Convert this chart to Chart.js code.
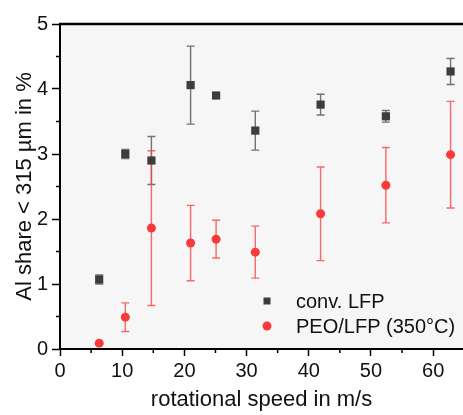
<!DOCTYPE html>
<html>
<head>
<meta charset="utf-8">
<script src="https://cdn.jsdelivr.net/npm/chart.js@4/dist/chart.umd.min.js"></script>
<style>
  html, body { margin: 0; padding: 0; background: #fff; }
  #wrap { width: 463px; height: 415px; }
</style>
</head>
<body>
<div id="wrap"><canvas id="chart" width="463" height="415"></canvas></div>
<script>
// rotational speed (m/s)
var speed = [6.3, 10.5, 14.7, 21.0, 25.1, 31.4, 41.9, 52.4, 62.8];

// Al share < 315 um, conv. LFP
var convMean = [1.07, 3.00, 2.90, 4.06, 3.90, 3.36, 3.76, 3.58, 4.27];
var convErr = [0.07, 0.07, 0.37, 0.60, 0.03, 0.30, 0.16, 0.09, 0.20];

// Al share < 315 um, PEO/LFP (350°C)
var peoMean = [0.09, 0.49, 1.86, 1.63, 1.69, 1.49, 2.08, 2.52, 2.99];
var peoErr = [0.00, 0.22, 1.19, 0.58, 0.29, 0.40, 0.72, 0.58, 0.82];

var xTicks = [0, 10, 20, 30, 40, 50, 60];
var yTicks = [0, 1, 2, 3, 4, 5];

var FONT = "'Liberation Sans', Arial, sans-serif";

function toPoints(ys, errs) {
    return speed.map(function (x, i) {
        return { x: x, y: ys[i], err: errs[i] };
    });
}

// plot background + top frame line + minor ticks
var backdrop = {
    id: 'backdrop',
    beforeDraw: function (chart) {
        var a = chart.chartArea, ctx = chart.ctx;
        ctx.save();
        ctx.fillStyle = '#f6f6f6';
        ctx.fillRect(a.left, a.top, a.right - a.left, a.bottom - a.top);
        ctx.restore();
    },
    afterDraw: function (chart) {
        var a = chart.chartArea, ctx = chart.ctx;
        var xs = chart.scales.x, ys = chart.scales.y;
        ctx.save();
        ctx.strokeStyle = '#000';
        ctx.lineWidth = 2.5;
        ctx.beginPath();
        ctx.moveTo(a.left - 1, a.top);
        ctx.lineTo(a.right, a.top);
        ctx.stroke();
        ctx.lineWidth = 1.5;
        ctx.beginPath();
        for (var v = 5; v < xs.max; v += 10) {
            var px = xs.getPixelForValue(v);
            ctx.moveTo(px, a.bottom);
            ctx.lineTo(px, a.bottom + 4);
        }
        for (var w = 0.5; w < ys.max; w += 1) {
            var py = ys.getPixelForValue(w);
            ctx.moveTo(a.left, py);
            ctx.lineTo(a.left - 4, py);
        }
        ctx.stroke();
        ctx.restore();
    }
};

// vertical error bars
var errorBars = {
    id: 'errorBars',
    beforeDatasetsDraw: function (chart) {
        var ctx = chart.ctx;
        var xs = chart.scales.x, ys = chart.scales.y;
        ctx.save();
        chart.data.datasets.forEach(function (ds) {
            ctx.strokeStyle = ds.errColor;
            ctx.lineWidth = 1.4;
            ds.data.forEach(function (p) {
                if (!p.err) return;
                var px = xs.getPixelForValue(p.x);
                var top = ys.getPixelForValue(p.y + p.err);
                var bot = ys.getPixelForValue(p.y - p.err);
                ctx.beginPath();
                ctx.moveTo(px, top);
                ctx.lineTo(px, bot);
                ctx.moveTo(px - 4, top);
                ctx.lineTo(px + 4, top);
                ctx.moveTo(px - 4, bot);
                ctx.lineTo(px + 4, bot);
                ctx.stroke();
            });
        });
        ctx.restore();
    }
};

// legend inside plot, bottom right
var insideLegend = {
    id: 'insideLegend',
    afterDraw: function (chart) {
        var ctx = chart.ctx;
        var mx = 267, tx = 296, rows = [301, 326];
        ctx.save();
        ctx.font = '20px ' + FONT;
        ctx.textBaseline = 'middle';
        ctx.textAlign = 'left';
        chart.data.datasets.forEach(function (ds, i) {
            ctx.fillStyle = ds.backgroundColor;
            if (ds.pointStyle === 'rect') {
                ctx.fillRect(mx - 3.5, rows[i] - 3.5, 7, 7);
            } else {
                ctx.beginPath();
                ctx.arc(mx, rows[i], 4.5, 0, Math.PI * 2);
                ctx.fill();
            }
            ctx.fillStyle = '#111';
            ctx.fillText(ds.label, tx, rows[i] + 1);
        });
        ctx.restore();
    }
};

var chart = new Chart(document.getElementById('chart'), {
    type: 'scatter',
    data: {
        datasets: [
            {
                label: 'conv. LFP',
                data: toPoints(convMean, convErr),
                pointStyle: 'rect',
                pointRadius: 5.8,
                backgroundColor: '#3d3d3d',
                borderColor: '#3d3d3d',
                borderWidth: 0,
                errColor: 'rgba(90,90,90,0.85)'
            },
            {
                label: 'PEO/LFP (350°C)',
                data: toPoints(peoMean, peoErr),
                pointStyle: 'circle',
                pointRadius: 4.5,
                backgroundColor: '#f83a3a',
                borderColor: '#f83a3a',
                borderWidth: 0,
                errColor: 'rgba(245,70,70,0.8)'
            }
        ]
    },
    options: {
        responsive: false,
        animation: false,
        layout: {
            autoPadding: false,
            padding: { top: 24, right: 0, left: 0, bottom: 0 }
        },
        plugins: {
            legend: { display: false },
            tooltip: { enabled: false }
        },
        scales: {
            x: {
                type: 'linear',
                min: 0,
                max: 64.8,
                afterBuildTicks: function (scale) {
                    scale.ticks = xTicks.map(function (v) { return { value: v }; });
                },
                afterFit: function (scale) { scale.height = 66; },
                grid: {
                    drawOnChartArea: false,
                    drawTicks: true,
                    tickLength: 7,
                    tickWidth: 1.5,
                    tickColor: '#000'
                },
                border: { display: true, color: '#000', width: 2 },
                ticks: {
                    color: '#111',
                    padding: 3,
                    maxRotation: 0,
                    font: { family: FONT, size: 20 }
                },
                title: {
                    display: true,
                    text: 'rotational speed in m/s',
                    color: '#111',
                    padding: { top: 0, bottom: 2 },
                    font: { family: FONT, size: 22 }
                }
            },
            y: {
                type: 'linear',
                min: 0,
                max: 5,
                afterBuildTicks: function (scale) {
                    scale.ticks = yTicks.map(function (v) { return { value: v }; });
                },
                afterFit: function (scale) { scale.width = 60; },
                grid: {
                    drawOnChartArea: false,
                    drawTicks: true,
                    tickLength: 8,
                    tickWidth: 1.5,
                    tickColor: '#000'
                },
                border: { display: true, color: '#000', width: 2 },
                ticks: {
                    color: '#111',
                    padding: 4,
                    font: { family: FONT, size: 20 }
                },
                title: {
                    display: true,
                    text: 'Al share < 315 µm in %',
                    color: '#111',
                    padding: { top: 12, bottom: 0 },
                    font: { family: FONT, size: 22 }
                }
            }
        }
    },
    plugins: [backdrop, errorBars, insideLegend]
});
</script>
</body>
</html>
